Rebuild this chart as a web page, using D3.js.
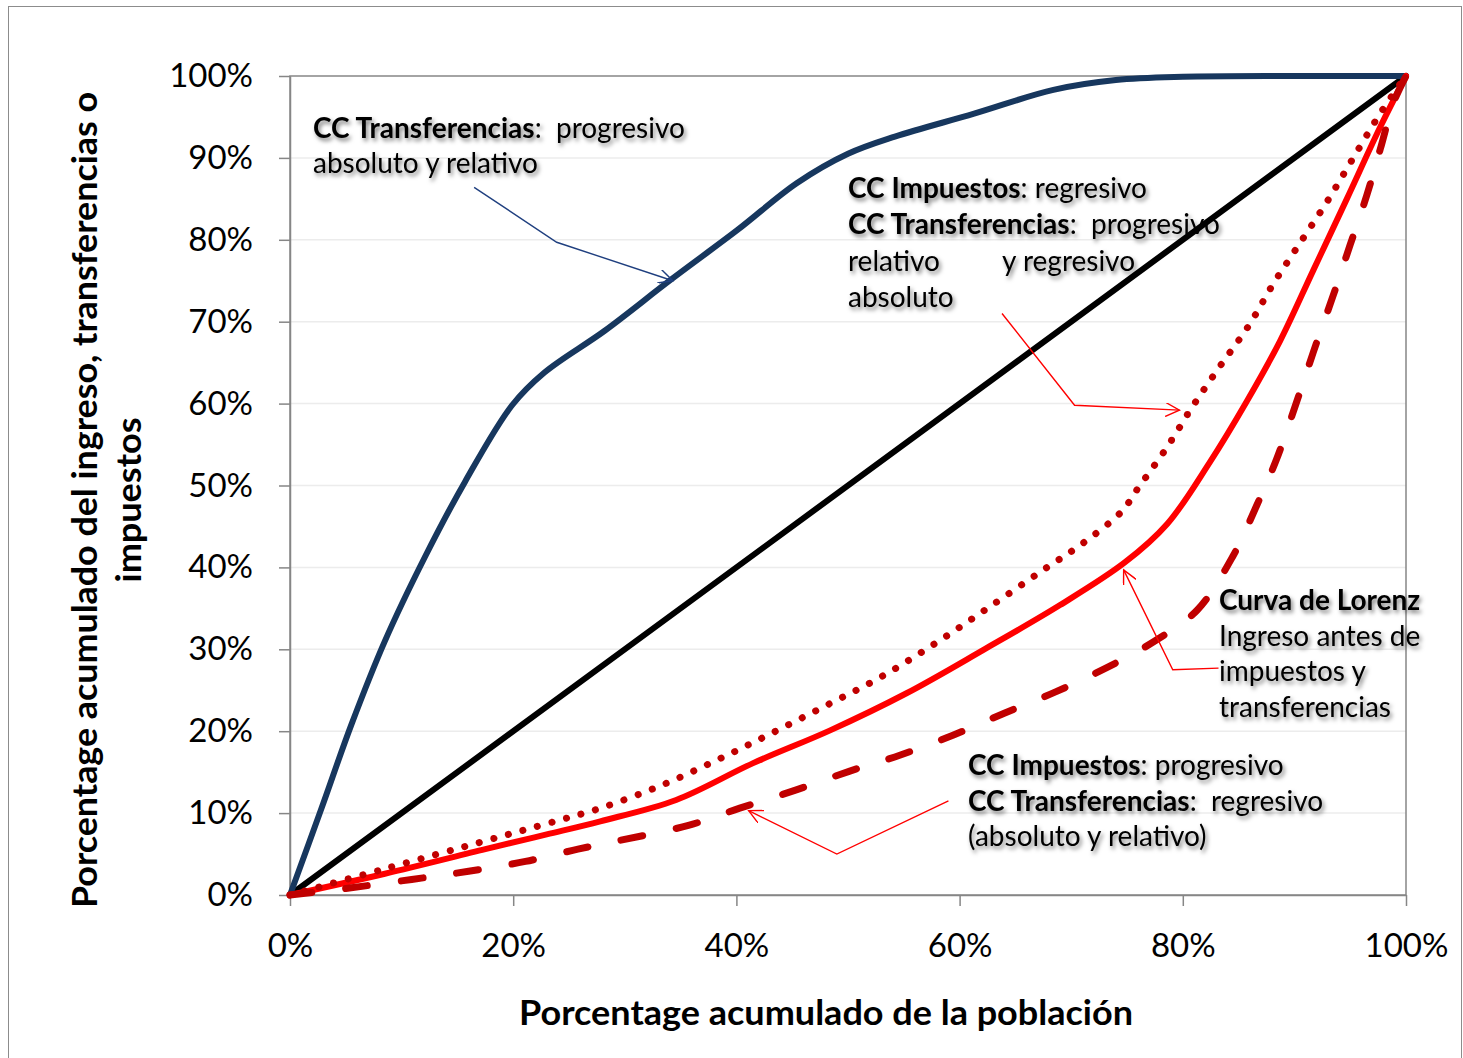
<!DOCTYPE html>
<html>
<head>
<meta charset="utf-8">
<script src="https://cdn.jsdelivr.net/npm/d3@7"></script>
<style>
  body { margin: 0; background: #fff; }
  text { font-family: Lato, "Noto Sans", sans-serif; }
</style>
</head>
<body>
<svg id="chart" width="1463" height="1058"></svg>
<script>
// ---- data (percent of population, percent accumulated) ----
var xTicks = [0, 20, 40, 60, 80, 100];
var yTicks = [0, 10, 20, 30, 40, 50, 60, 70, 80, 90, 100];

var igualdad = [[0, 0], [100, 100]];

var transferenciasProgresivo = [
  [0, 0], [2.8, 10.5], [5.5, 20.8], [8.5, 31], [12.1, 41.3], [15.7, 50.5],
  [19.9, 59.8], [22.8, 63.8], [28.2, 68.9], [34.1, 75.1], [40.1, 81.2],
  [45.4, 86.9], [50, 90.5], [54.2, 92.6], [61.3, 95.4], [68.4, 98.3],
  [74, 99.5], [80, 99.9], [90, 100], [100, 100]
];

var lorenz = [
  [0, 0], [8.5, 2.6], [17.5, 5.6], [23, 7.4], [27.8, 9.0],
  [34.6, 11.6], [41.5, 16.1], [48.4, 20.1], [55.2, 24.6], [62.1, 29.9],
  [69, 35.4], [74.8, 40.6], [78.6, 45.3], [82.4, 52.8], [85.7, 60.2],
  [88.7, 67.6], [91.7, 76.3], [94.7, 85], [97.7, 93.8], [100, 100]
];

var impuestosRegresivo = [
  [0, 0], [8.5, 3.2], [18, 6.8], [23, 8.7], [27.8, 10.6],
  [33.3, 13.4], [38.6, 16.7], [42.5, 19.3], [47.7, 22.9], [52.8, 26.5],
  [57.8, 30.7], [62.6, 35.1], [67.4, 39.6], [71, 42.9], [74.5, 46.8],
  [76, 49.7], [78.6, 54.7], [80.9, 59.7], [83.3, 64.5], [85.9, 69.5],
  [88.1, 74.6], [90.5, 79.6], [92.9, 84.6], [95.1, 89.6], [97.4, 94.8],
  [99.2, 98.5], [100, 100]
];

var impuestosProgresivo = [
  [0, 0], [5, 0.8], [10.9, 1.9], [16, 2.9], [21.1, 4.1], [25.8, 5.6],
  [29.3, 6.6], [35.7, 8.5], [40.3, 10.6], [45.3, 12.8], [50.1, 15.1],
  [54.7, 17.1], [59.4, 19.5], [64, 22.2], [68.6, 24.8], [73.1, 27.7],
  [77.6, 31.1], [81.3, 34.8], [84.5, 41.4], [86.6, 47.5], [88.4, 53.2],
  [90.2, 60.2], [91.7, 66.3], [93.5, 73.3], [95, 79.4], [96.5, 85.5],
  [97.7, 91.1], [98.9, 96.8], [100, 100]
];

// annotation texts: [text, bold]
var notaTransferencias = [
  [["CC Transferencias", true], [":\u00a0 progresivo", false]],
  [["absoluto y relativo", false]]
];
var notaRegresivo = [
  [["CC Impuestos", true], [": regresivo", false]],
  [["CC Transferencias", true], [":\u00a0 progresivo", false]],
  [["relativo", false]],
  [["absoluto", false]]
];
var notaRegresivoTab = "y regresivo";
var notaLorenz = [
  [["Curva de Lorenz", true]],
  [["Ingreso antes de", false]],
  [["impuestos y", false]],
  [["transferencias", false]]
];
var notaProgresivo = [
  [["CC Impuestos", true], [": progresivo", false]],
  [["CC Transferencias", true], [":\u00a0 regresivo", false]],
  [["(absoluto y relativo)", false]]
];

var tituloX = "Porcentage acumulado de la población";
var tituloY = ["Porcentage acumulado del ingreso, transferencias o", "impuestos"];

// ---- layout ----
var plot = { left: 290, right: 1406, top: 76, bottom: 895 };
var axisColor = "#868686";

var svg = d3.select("#chart");

var x = d3.scaleLinear().domain([0, 100]).range([plot.left, plot.right]);
var y = d3.scaleLinear().domain([0, 100]).range([plot.bottom, plot.top]);

var defs = svg.append("defs");
var f = defs.append("filter").attr("id", "sombra")
  .attr("x", "-10%").attr("y", "-40%").attr("width", "125%").attr("height", "190%");
f.append("feDropShadow").attr("dx", 2).attr("dy", 3).attr("stdDeviation", 2)
  .attr("flood-color", "#000").attr("flood-opacity", 0.5);

function arrowMarker(id, color) {
  defs.append("marker").attr("id", id)
    .attr("markerUnits", "userSpaceOnUse")
    .attr("markerWidth", 16).attr("markerHeight", 14)
    .attr("refX", 14).attr("refY", 7)
    .attr("orient", "auto")
    .append("path").attr("d", "M0,0 L14,7 L0,14")
    .attr("fill", "none").attr("stroke", color).attr("stroke-width", 1.4);
}
arrowMarker("flechaAzul", "#1F3F7F");
arrowMarker("flechaRoja", "#FF0000");

// outer frame
svg.append("rect")
  .attr("x", 8.5).attr("y", 6.5).attr("width", 1453).attr("height", 1070)
  .attr("fill", "#fff").attr("stroke", "#8c8c8c").attr("stroke-width", 1);

// gridlines
svg.append("g").selectAll("line")
  .data(yTicks.filter(function(d) { return d > 0 && d < 100; }))
  .join("line")
  .attr("x1", x(0)).attr("x2", x(100))
  .attr("y1", function(d) { return y(d); })
  .attr("y2", function(d) { return y(d); })
  .attr("stroke", "#ececec").attr("stroke-width", 1.5);

// plot border
svg.append("rect")
  .attr("x", x(0)).attr("y", y(100))
  .attr("width", x(100) - x(0)).attr("height", y(0) - y(100))
  .attr("fill", "none").attr("stroke", axisColor).attr("stroke-width", 1.5);

// axes
var gy = svg.append("g")
  .attr("transform", "translate(" + plot.left + ",0)")
  .call(d3.axisLeft(y).tickValues(yTicks)
    .tickFormat(function(d) { return d + "%"; })
    .tickSize(11).tickPadding(26).tickSizeOuter(0));
gy.attr("font-family", null).attr("font-size", 33);
gy.select(".domain").attr("stroke", axisColor).attr("stroke-width", 1.5);
gy.selectAll(".tick line").attr("stroke", axisColor).attr("stroke-width", 1.5);
gy.selectAll(".tick text").attr("fill", "#000");

var gx = svg.append("g")
  .attr("transform", "translate(0," + plot.bottom + ")")
  .call(d3.axisBottom(x).tickValues(xTicks)
    .tickFormat(function(d) { return d + "%"; })
    .tickSize(11).tickSizeOuter(0));
gx.attr("font-family", null).attr("font-size", 33);
gx.select(".domain").attr("stroke", axisColor).attr("stroke-width", 1.5);
gx.selectAll(".tick line").attr("stroke", axisColor).attr("stroke-width", 1.5);
gx.selectAll(".tick text").attr("fill", "#000").attr("dy", null).attr("y", 62);

// axis titles
svg.append("text")
  .attr("x", 826).attr("y", 1025)
  .attr("text-anchor", "middle")
  .attr("font-size", 34).attr("font-weight", 700)
  .attr("textLength", 614).attr("lengthAdjust", "spacingAndGlyphs")
  .text(tituloX);

var yTitlePos = [[97, 816], [141, 165]];
tituloY.forEach(function(t, i) {
  svg.append("text")
    .attr("transform", "translate(" + yTitlePos[i][0] + ",500) rotate(-90)")
    .attr("text-anchor", "middle")
    .attr("font-size", 34).attr("font-weight", 700)
    .attr("textLength", yTitlePos[i][1]).attr("lengthAdjust", "spacingAndGlyphs")
    .attr("x", 0).attr("y", 0)
    .text(t);
});

// annotation texts (drawn below the curves)
var notes = svg.append("g").attr("filter", "url(#sombra)")
  .attr("font-size", 28);

function drawNote(lines, x0, y0, lh) {
  lines.forEach(function(segs, i) {
    var t = notes.append("text").attr("x", x0).attr("y", y0 + i * lh);
    segs.forEach(function(s) {
      t.append("tspan").attr("font-weight", s[1] ? 700 : 400).text(s[0]);
    });
  });
}
drawNote(notaTransferencias, 313, 138, 35);
drawNote(notaRegresivo, 848, 198, 36.3);
notes.append("text").attr("x", 1002).attr("y", 198 + 2 * 36.3).text(notaRegresivoTab);
drawNote(notaLorenz, 1219, 610, 35.6);
drawNote(notaProgresivo, 968, 775, 35.5);

// curves
var line = d3.line()
  .x(function(d) { return x(d[0]); })
  .y(function(d) { return y(d[1]); })
  .curve(d3.curveCatmullRom.alpha(0.5));

var series = [
  { data: igualdad, color: "#000000", width: 6, dash: null },
  { data: transferenciasProgresivo, color: "#17375E", width: 6, dash: null },
  { data: lorenz, color: "#FF0000", width: 6, dash: null },
  { data: impuestosRegresivo, color: "#C00000", width: 7, dash: "0.1 15" },
  { data: impuestosProgresivo, color: "#C00000", width: 7, dash: "22 34" }
];

svg.append("g").selectAll("path")
  .data(series)
  .join("path")
  .attr("d", function(d) { return line(d.data); })
  .attr("fill", "none")
  .attr("stroke", function(d) { return d.color; })
  .attr("stroke-width", function(d) { return d.width; })
  .attr("stroke-dasharray", function(d) { return d.dash; })
  .attr("stroke-linecap", "round")
  .attr("stroke-linejoin", "round");

// annotation arrows, in data coordinates
var arrows = [
  { pts: [[16.5, 86.4], [23.9, 79.7], [34.3, 75.0]], color: "#1F3F7F", marker: "flechaAzul" },
  { pts: [[63.8, 71.0], [70.3, 59.8], [79.7, 59.2]], color: "#FF0000", marker: "flechaRoja" },
  { pts: [[83.2, 27.7], [79.1, 27.5], [74.7, 39.7]], color: "#FF0000", marker: "flechaRoja" },
  { pts: [[59.0, 11.5], [49.0, 5.0], [41.1, 10.3]], color: "#FF0000", marker: "flechaRoja" }
];
var straight = d3.line()
  .x(function(d) { return x(d[0]); })
  .y(function(d) { return y(d[1]); });

svg.append("g").selectAll("path")
  .data(arrows)
  .join("path")
  .attr("d", function(d) { return straight(d.pts); })
  .attr("fill", "none")
  .attr("stroke", function(d) { return d.color; })
  .attr("stroke-width", 1.4)
  .attr("marker-end", function(d) { return "url(#" + d.marker + ")"; });
</script>
</body>
</html>
